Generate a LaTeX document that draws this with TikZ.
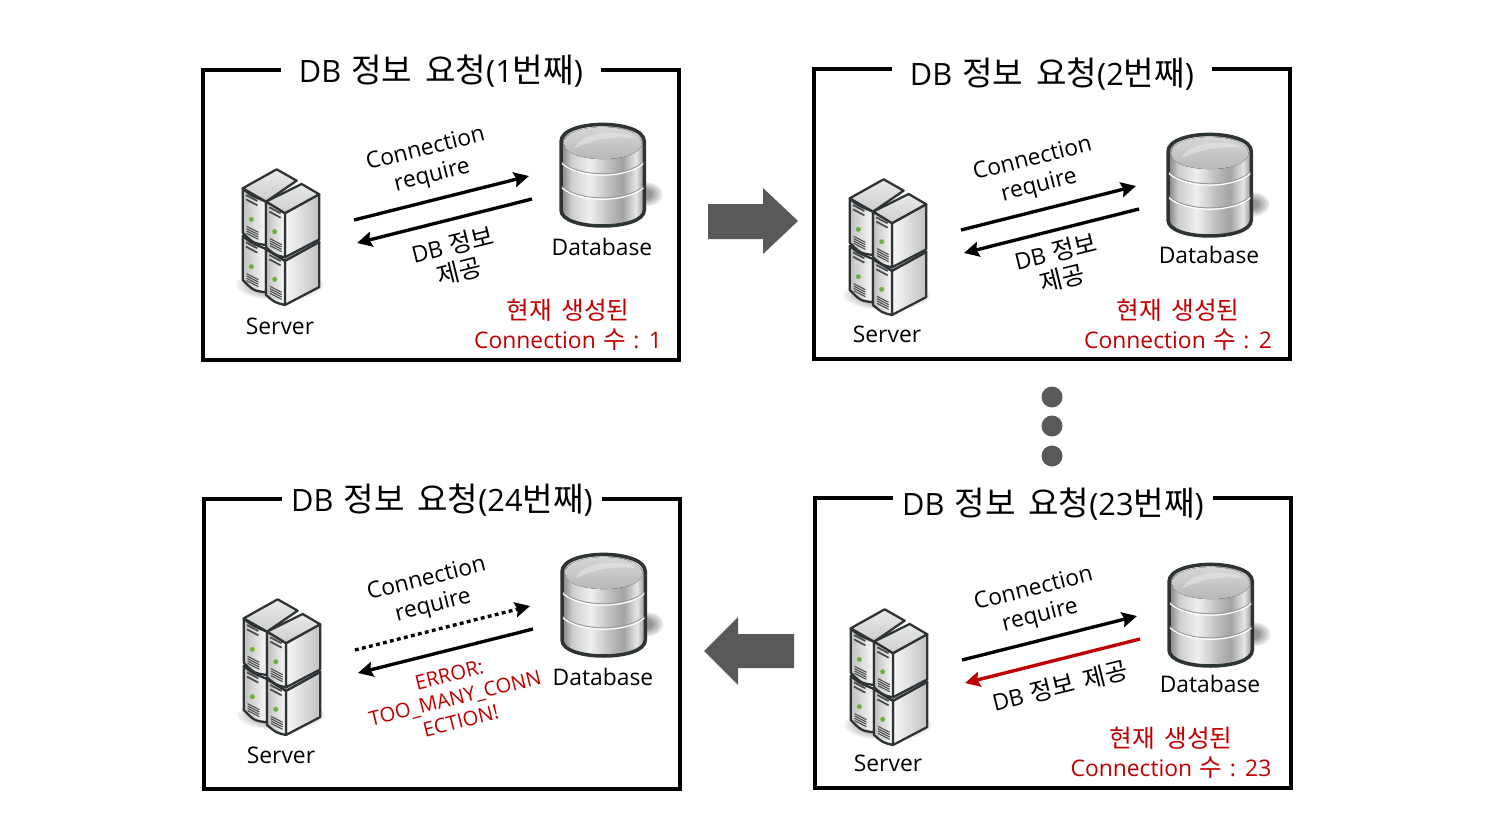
\documentclass[tikz,border=0pt]{standalone}
\usepackage{fontspec}
\setmainfont[WordSpace=1.25]{Open Sans}
\newfontfamily\kr[Scale=1.08, WordSpace=1.7]{Noto Sans CJK KR}
\usetikzlibrary{arrows.meta}

\newcommand{\ko}[1]{{\kr #1}}

\definecolor{srvline}{HTML}{2E3436}
\definecolor{srvled}{HTML}{6DB33A}
\definecolor{errred}{HTML}{C00000}
\definecolor{bigdark}{HTML}{595959}

% body of the cylinder, 25bp and 75bp are its edges
\pgfdeclarehorizontalshading{dbbody}{100bp}{
  color(0bp)=(black!50); color(25bp)=(black!50); color(31bp)=(black!20);
  color(42bp)=(black!6); color(54bp)=(black!26); color(62bp)=(black!36);
  color(70bp)=(black!10); color(75bp)=(black!42); color(100bp)=(black!42)}

% vents and lamp of one front face
\newcommand{\srvfront}{
  \draw[srvvent] (118,142) -- (152,160) (118,155) -- (152,173);
  \foreach \v in {0,7,14,21}
    \draw[srvvent, line width=.6pt] (120,236+\v) -- (155,254+\v);
  \fill[srvled] (134,215) circle[radius=7.5];
}

% one front server box, #1 #2 is its shift
\newcommand{\srvbox}[2]{
  \begin{scope}[shift={(#1,#2)}]
    \draw[srvedge, top color=black!8, bottom color=black!20] (108,125) -- (215,72) -- (268,103) -- (165,160) -- cycle;
    \draw[srvedge, left color=black!3, right color=black!24] (165,160) -- (268,103) -- (268,238) -- (165,292) -- cycle;
    \draw[srvedge, left color=black!25, right color=black!2] (108,125) -- (165,160) -- (165,292) .. controls (135,285) .. (108,262) -- cycle;
    \srvfront
  \end{scope}
}

% one back server face, #1 is its shift downwards
\newcommand{\srvback}[1]{
  \begin{scope}[shift={(0,#1)}]
    \draw[srvedge, left color=black!25, right color=black!2] (38,85) .. controls (60,105) .. (108,125) -- (108,255) .. controls (70,250) .. (38,218) -- cycle;
    \begin{scope}[shift={(-70,-37)}]
      \srvfront
    \end{scope}
  \end{scope}
}

\tikzset{
  every node/.style={font=\fontsize{13}{15.5}\selectfont},
  panelframe/.style={line width=1.85pt, black},
  paneltitle/.style={fill=white, inner sep=0pt, minimum width=6.4cm, minimum height=1cm, font=\fontsize{17.5}{20}\selectfont},
  caption/.style={align=center},
  tilted/.style={rotate=14, align=center},
  redlabel/.style={align=center, text=errred, font=\fontsize{13}{16.4}\selectfont},
  flow/.style={line width=1.9pt, -{Stealth[length=8.5pt, width=8.5pt, inset=1.2pt]}},
  srvedge/.style={line width=1.3pt, draw=srvline, line join=round},
  srvvent/.style={line width=1pt, draw=black!70},
  bigarrow/.style={fill=bigdark},
  serverpic/.pic={
    \begin{scope}[scale=0.3333]
      \foreach \r in {1,.92,.84,.76,.68,.6,.52}
        \fill[black, opacity=.06] (150,375) ellipse[x radius=130*\r, y radius=45*\r];
      \srvback{142}
      \srvback{0}
      \draw[srvedge, top color=black!8, bottom color=black!20] (38,85) -- (140,28) -- (200,62) -- (108,125) -- cycle;
      \srvbox{0}{143}
      \srvbox{0}{0}
    \end{scope}
  },
  dbpic/.pic={
    \begin{scope}[scale=0.3333]
      \foreach \r in {1,.85,.7,.55,.4}
        \fill[black, opacity=.1] (285,238) ellipse[x radius=52*\r, y radius=36*\r];
      \draw[line width=2pt, draw=srvline, shading=dbbody]
        (33,80) -- (33,285) .. controls (33,349) and (283,349) .. (283,285)
        -- (283,80) .. controls (283,11) and (33,11) .. (33,80);
      \fill[top color=black!14, bottom color=black!30]
        (42,85) .. controls (42,20) and (274,20) .. (274,85) .. controls (274,148) and (42,148) .. (42,85);
      \fill[black!8, opacity=.5]
        (75,100) .. controls (85,50) and (230,40) .. (255,70) .. controls (200,60) and (120,75) .. (75,100);
      \draw[black!40, line width=.6pt] (36,142) .. controls (90,188) and (226,188) .. (280,142);
      \draw[white, line width=.7pt] (36,146) .. controls (90,192) and (226,192) .. (280,146);
      \draw[black!40, line width=.6pt] (36,215) .. controls (90,260) and (226,260) .. (280,215);
      \draw[white, line width=.7pt] (36,219) .. controls (90,264) and (226,264) .. (280,219);
    \end{scope}
  }
}

\begin{document}
\begin{tikzpicture}[x=0.02cm, y=-0.02cm]
  \useasboundingbox (0,0) rectangle (1500,835);

  % Four panels
  \foreach \id/\fx/\fy/\tx/\ty/\cx/\cy/\lx/\ly/\mx/\my/\num in {
      a/203/70/441/71/0/0/0/0/0/0/1,
      b/814/69/1052/74/607/10/607/8/607/8/2,
      c/815/498/1053/504/608/440/608/437/608/437/23,
      d/204/499/442/500/1/430/1/429/1/430/24}{
    \draw[panelframe] (\fx,\fy) rectangle ++(476,290);
    \node[paneltitle] (\id-title) at (\tx,\ty) {DB \ko{정보 요청}(\num\ko{번째})};
    \pic (\id-srv) at (\cx+230,\cy+160) {serverpic};
    \pic (\id-db) at (\cx+550,\cy+115) {dbpic};
    \node[caption] (\id-srvlabel) at (\lx+280,\ly+326) {Server};
    \node[caption] (\id-dblabel) at (\mx+602,\my+247) {Database};
    \node[tilted] (\id-req) at (\cx+429,\cy+163) {Connection\\require};
    \coordinate (\id-reqs) at (\cx+354,\cy+220);
    \coordinate (\id-reqe) at (\cx+529,\cy+176);
    \coordinate (\id-bacs) at (\cx+532,\cy+199);
    \coordinate (\id-bace) at (\cx+357,\cy+243);
  }

  % Connectors
  \draw[flow] (a-reqs) -- (a-reqe);
  \draw[flow] (a-bacs) -- (a-bace);
  \draw[flow] (b-reqs) -- (b-reqe);
  \draw[flow] (b-bacs) -- (b-bace);
  \draw[flow] (c-reqs) -- (c-reqe);
  \draw[flow, errred] (c-bacs) -- (c-bace);
  \draw[flow, dash pattern=on 2.2pt off 1.9pt] (d-reqs) -- (d-reqe);
  \draw[flow] (d-bacs) -- (d-bace);

  % Answer texts
  \node[tilted] (a-ans) at (456,258) {DB \ko{정보}\\\ko{제공}};
  \node[tilted] (b-ans) at (1059,265) {DB \ko{정보}\\\ko{제공}};
  \node[tilted] (c-ans) at (1060,686) {DB \ko{정보 제공}};
  \node[tilted, text=errred, font=\fontsize{11.5}{13.5}\selectfont] (d-ans) at (455,698) {ERROR:\\TOO\_MANY\_CONN\\ECTION!};

  % Counters
  \node[redlabel] (a-count) at (568,325) {\ko{현재 생성된}\\Connection \ko{수} : 1};
  \node[redlabel] (b-count) at (1178,325) {\ko{현재 생성된}\\Connection \ko{수} : 2};
  \node[redlabel] (c-count) at (1171,753) {\ko{현재 생성된}\\Connection \ko{수} : 23};

  % Big arrows between panels
  \fill[bigarrow] (708,204) -- (763,204) -- (763,188) -- (798,221) -- (763,254) -- (763,239) -- (708,239) -- cycle;
  \fill[bigarrow] (794,634) -- (738,634) -- (738,617) -- (704,651) -- (738,685) -- (738,668) -- (794,668) -- cycle;

  % Dots
  \fill[bigdark] (1052,397) circle[radius=10.5];
  \fill[bigdark] (1052,426) circle[radius=10.5];
  \fill[bigdark] (1052,456) circle[radius=10.5];
\end{tikzpicture}
\end{document}
